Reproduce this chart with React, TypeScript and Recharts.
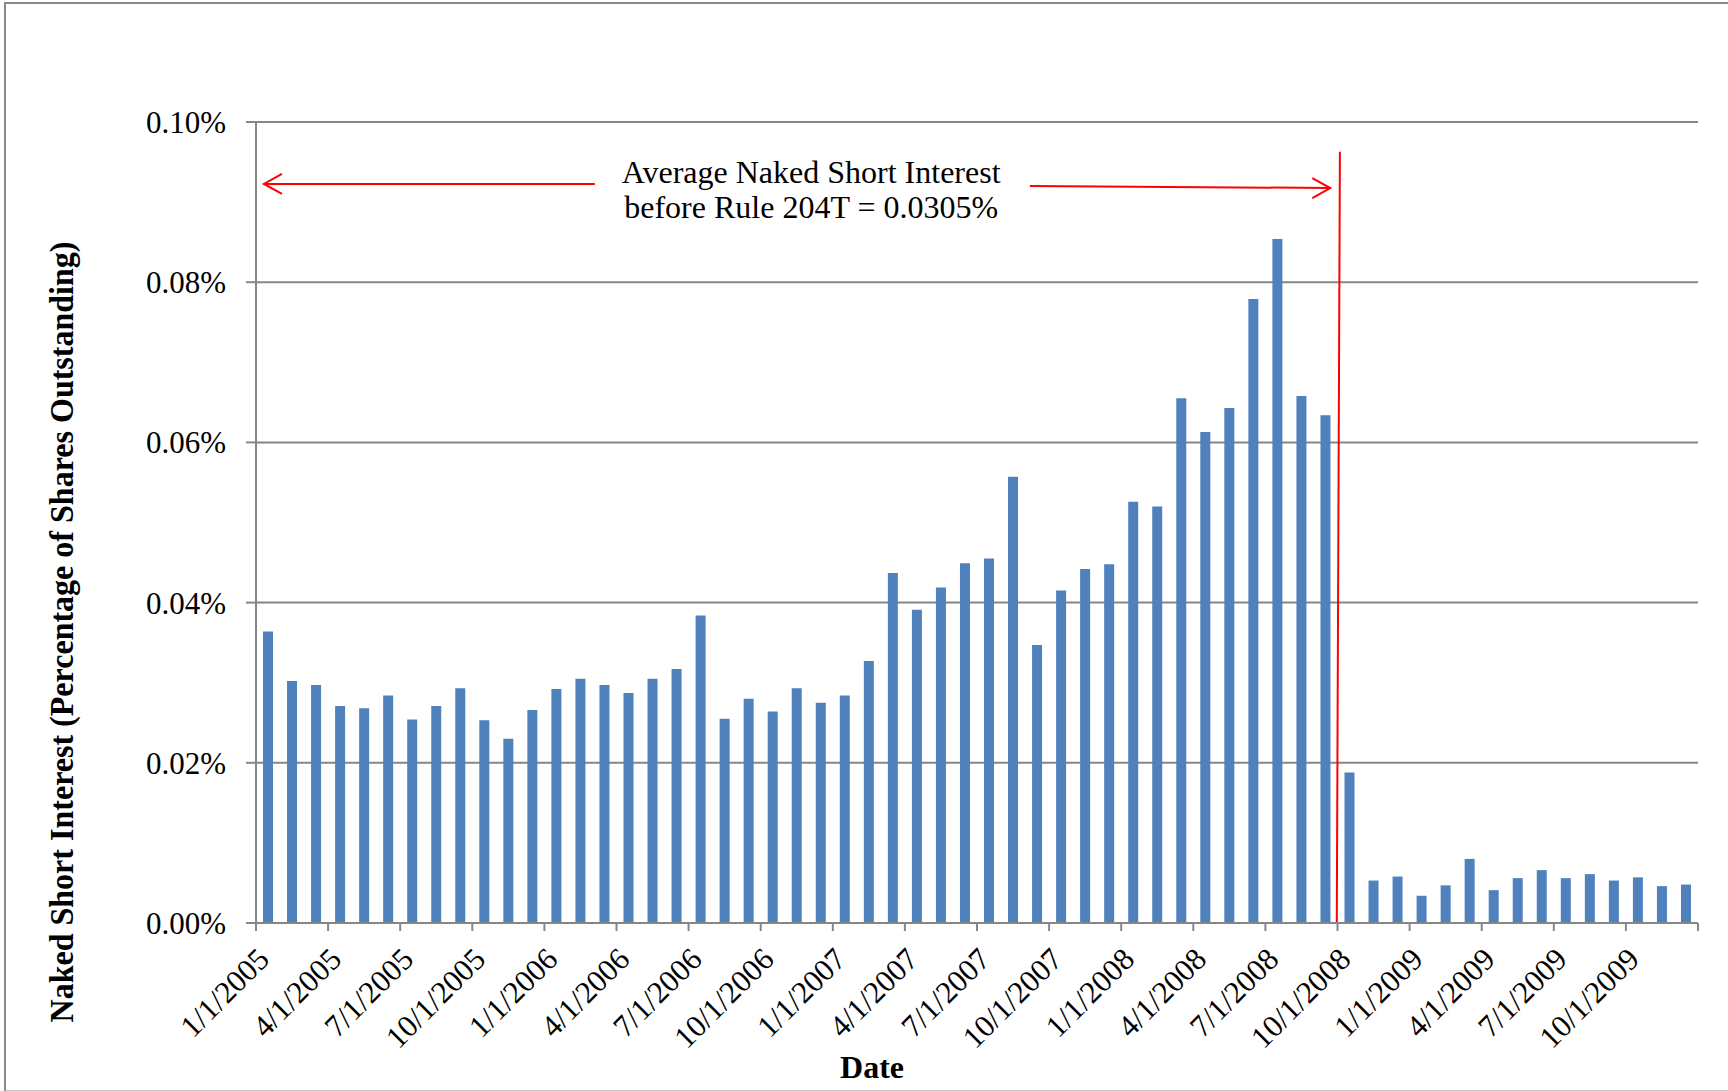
import React from 'react'
import {
  BarChart, Bar, XAxis, YAxis, CartesianGrid, ReferenceLine, ReferenceDot,
} from 'recharts'

// ─── Data ─────────────────────────────────────────────────────────────────────
const months = [
  '2005-01', '2005-02', '2005-03', '2005-04', '2005-05', '2005-06', '2005-07', '2005-08', '2005-09', '2005-10', '2005-11', '2005-12',
  '2006-01', '2006-02', '2006-03', '2006-04', '2006-05', '2006-06', '2006-07', '2006-08', '2006-09', '2006-10', '2006-11', '2006-12',
  '2007-01', '2007-02', '2007-03', '2007-04', '2007-05', '2007-06', '2007-07', '2007-08', '2007-09', '2007-10', '2007-11', '2007-12',
  '2008-01', '2008-02', '2008-03', '2008-04', '2008-05', '2008-06', '2008-07', '2008-08', '2008-09', '2008-10', '2008-11', '2008-12',
  '2009-01', '2009-02', '2009-03', '2009-04', '2009-05', '2009-06', '2009-07', '2009-08', '2009-09', '2009-10', '2009-11', '2009-12',
]

// naked short interest, % of shares outstanding
const nakedShort = [
  0.0364, 0.0302, 0.0297, 0.0271, 0.0268, 0.0284, 0.0254, 0.0271, 0.0293, 0.0253, 0.0230, 0.0266,
  0.0292, 0.0305, 0.0297, 0.0287, 0.0305, 0.0317, 0.0384, 0.0255, 0.0280, 0.0264, 0.0293, 0.0275,
  0.0284, 0.0327, 0.0437, 0.0391, 0.0419, 0.0449, 0.0455, 0.0557, 0.0347, 0.0415, 0.0442, 0.0448,
  0.0526, 0.0520, 0.0655, 0.0613, 0.0643, 0.0779, 0.0854, 0.0658, 0.0634, 0.0188, 0.0053, 0.0058,
  0.0034, 0.0047, 0.0080, 0.0041, 0.0056, 0.0066, 0.0056, 0.0061, 0.0053, 0.0057, 0.0046, 0.0048,
]

const tickLabels = [
  '1/1/2005', '4/1/2005', '7/1/2005', '10/1/2005',
  '1/1/2006', '4/1/2006', '7/1/2006', '10/1/2006',
  '1/1/2007', '4/1/2007', '7/1/2007', '10/1/2007',
  '1/1/2008', '4/1/2008', '7/1/2008', '10/1/2008',
  '1/1/2009', '4/1/2009', '7/1/2009', '10/1/2009',
  '',
]
const xTicks = tickLabels.map((_, i) => i * 3)
const yTicks = [0, 0.02, 0.04, 0.06, 0.08, 0.1]

const data = nakedShort.map((value, i) => ({ month: months[i], pos: i + 0.5, value }))

// ─── Styles ───────────────────────────────────────────────────────────────────
const serif = "'Liberation Serif', 'Times New Roman', serif"
const grey = '#868686'
const red = '#ff0000'

// ─── Custom pieces ────────────────────────────────────────────────────────────
function DateTick(props: any) {
  const { x, y, payload } = props
  const label = tickLabels[Math.round(payload.value / 3)]
  if (!label) return null
  const ax = x + 15
  const ay = y + 28
  return (
    <text x={ax} y={ay} transform={`rotate(-45, ${ax}, ${ay})`} textAnchor="end"
      fontFamily={serif} fontSize={31} fill="#000">
      {label}
    </text>
  )
}

const arrowShape = (side: 'left' | 'right') => (props: any) => {
  const { x1, y1, x2, y2 } = props
  const tx = side === 'left' ? x1 : x2
  const ty = side === 'left' ? y1 : y2
  const d = side === 'left' ? 18 : -18
  return (
    <g>
      <line x1={x1} y1={y1} x2={x2} y2={y2} stroke={red} strokeWidth={2} />
      <polyline points={`${tx + d},${ty - 10} ${tx},${ty} ${tx + d},${ty + 10}`}
        fill="none" stroke={red} strokeWidth={2} />
    </g>
  )
}

function NoteText(props: any) {
  const { cx, cy } = props
  return (
    <text x={cx} y={cy} textAnchor="middle" fontFamily={serif} fontSize={32} fill="#000">
      <tspan x={cx} dy={0}>Average Naked Short Interest</tspan>
      <tspan x={cx} dy={35}>before Rule 204T = 0.0305%</tspan>
    </text>
  )
}

export default function App() {
  return (
    <div style={{ position: 'absolute', left: 0, top: 0, width: 1728, height: 1091, background: '#fff' }}>
      <div style={{
        position: 'absolute', left: 4, top: 2, width: 1730, height: 1086,
        borderTop: '2px solid #8a8a8a', borderLeft: '2px solid #8a8a8a', borderBottom: '2px solid #c8c8c8',
      }} />
      <BarChart width={1728} height={1091} data={data}
        margin={{ top: 122, right: 30, bottom: 28, left: 136 }}
        style={{ position: 'absolute', left: 0, top: 0 }}>
        <CartesianGrid vertical={false} stroke={grey} strokeWidth={2} />
        <XAxis dataKey="pos" type="number" domain={[0, 60]} ticks={xTicks} interval={0}
          height={140} axisLine={{ stroke: grey, strokeWidth: 2 }}
          tickLine={{ stroke: grey, strokeWidth: 2 }} tickSize={8} tickMargin={2}
          tick={<DateTick />}
          label={{
            content: () => (
              <text x={872} y={1078} textAnchor="middle" fontFamily={serif} fontSize={32}
                fontWeight="bold" fill="#000">Date</text>
            ),
          }} />
        <YAxis type="number" domain={[0, 0.1]} ticks={yTicks} interval={0} width={120}
          axisLine={{ stroke: grey, strokeWidth: 2 }} tickLine={{ stroke: grey, strokeWidth: 2 }}
          tickSize={10} tickMargin={20}
          tickFormatter={(v: number) => `${v.toFixed(2)}%`}
          tick={{ fontFamily: serif, fontSize: 31, fill: '#000' }}
          label={{
            content: () => (
              <text x={73} y={632} transform="rotate(-90, 73, 632)" textAnchor="middle"
                fontFamily={serif} fontSize={33} fontWeight="bold" fill="#000"
                textLength={781} lengthAdjust="spacingAndGlyphs">
                Naked Short Interest (Percentage of Shares Outstanding)
              </text>
            ),
          }} />
        <Bar dataKey="value" fill="#4F81BD" barSize={10} isAnimationActive={false} />
        <ReferenceLine segment={[{ x: 45.1, y: 0.0963 }, { x: 44.97, y: 0 }]}
          stroke={red} strokeWidth={2} ifOverflow="visible" />
        <ReferenceLine segment={[{ x: 0.33, y: 0.09226 }, { x: 14.1, y: 0.09226 }]}
          shape={arrowShape('left')} ifOverflow="visible" />
        <ReferenceLine segment={[{ x: 32.2, y: 0.0920 }, { x: 44.7, y: 0.09176 }]}
          shape={arrowShape('right')} ifOverflow="visible" />
        <ReferenceDot x={23.1} y={0.0924} r={0} shape={<NoteText />} ifOverflow="visible" />
      </BarChart>
    </div>
  )
}
